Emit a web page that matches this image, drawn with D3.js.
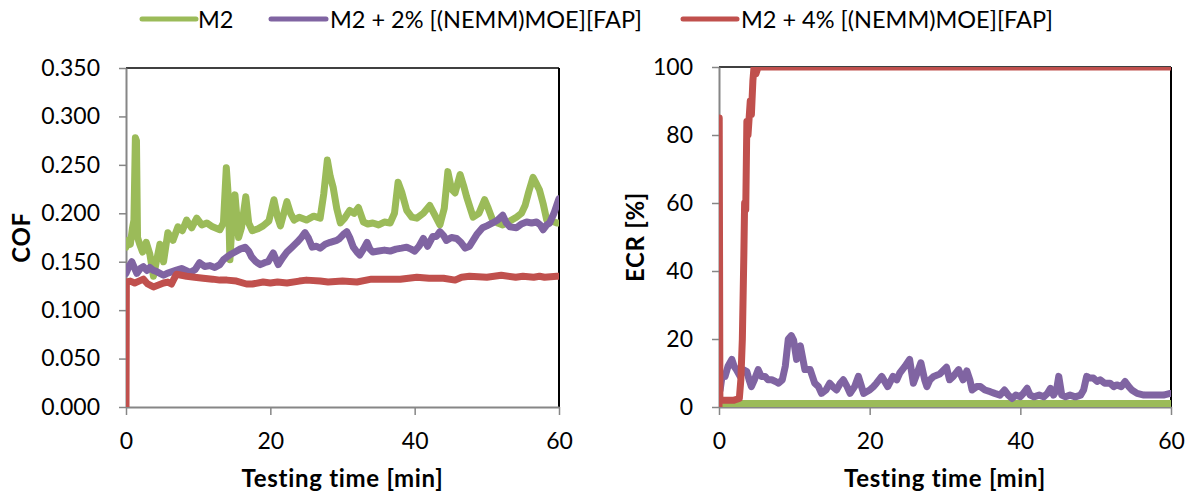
<!DOCTYPE html>
<html>
<head>
<meta charset="utf-8">
<script src="https://cdn.jsdelivr.net/npm/d3@7"></script>
<style>
  html, body { margin: 0; padding: 0; background: #fff; }
  svg { display: block; font-family: Lato, "Open Sans", sans-serif; }
</style>
</head>
<body>
<svg id="chart" width="1198" height="501"></svg>
<script>
// ---- series labels and colours ----
const seriesNames = ["M2", "M2 + 2% [(NEMM)MOE][FAP]", "M2 + 4% [(NEMM)MOE][FAP]"];
const seriesColors = ["#9BBB59", "#8064A2", "#C0504D"];

// ---- tick labels ----
const timeTicks = [0, 20, 40, 60];
const cofTicks = [0, 0.05, 0.10, 0.15, 0.20, 0.25, 0.30, 0.35];
const ecrTicks = [0, 20, 40, 60, 80, 100];

// ---- COF vs time (min) ----
const cofM2Time = [0, 0.3, 0.6, 0.9, 1.1, 1.3, 1.45, 1.6, 1.9, 2.3, 2.8, 3.3, 3.8, 4.2, 4.7, 5.2, 5.8, 6.5, 7.2, 7.8, 8.4, 9.1, 9.8, 10.5, 11.2, 12.0, 13.0, 13.5, 13.9, 14.2, 14.4, 14.7, 15.1, 15.6, 16.0, 16.6, 17.0, 17.5, 18.3, 19.0, 19.8, 20.5, 21.0, 21.4, 22.3, 22.8, 23.3, 24.0, 25.0, 26.0, 26.9, 27.4, 27.9, 28.3, 28.7, 29.2, 29.7, 30.3, 31.0, 31.6, 32.2, 32.9, 33.5, 34.2, 35.0, 35.8, 36.6, 37.2, 37.7, 38.2, 38.9, 39.6, 40.3, 41.2, 42.1, 42.8, 43.5, 44.1, 44.6, 45.1, 45.6, 46.3, 46.8, 47.2, 48.1, 48.9, 49.7, 50.2, 50.8, 51.5, 52.2, 53.2, 54.1, 54.8, 55.3, 55.8, 56.4, 56.9, 57.3, 57.8, 58.3, 59.0, 59.7, 60];
const cofM2 = [0.165, 0.172, 0.168, 0.185, 0.193, 0.278, 0.275, 0.175, 0.168, 0.160, 0.170, 0.158, 0.135, 0.150, 0.168, 0.150, 0.180, 0.172, 0.186, 0.182, 0.193, 0.185, 0.195, 0.188, 0.190, 0.186, 0.183, 0.190, 0.247, 0.215, 0.152, 0.190, 0.219, 0.175, 0.185, 0.217, 0.190, 0.182, 0.184, 0.187, 0.192, 0.214, 0.196, 0.187, 0.212, 0.200, 0.193, 0.196, 0.193, 0.197, 0.195, 0.220, 0.255, 0.238, 0.227, 0.205, 0.190, 0.195, 0.203, 0.200, 0.206, 0.191, 0.189, 0.190, 0.188, 0.191, 0.190, 0.200, 0.232, 0.222, 0.203, 0.196, 0.195, 0.200, 0.208, 0.198, 0.188, 0.205, 0.243, 0.225, 0.221, 0.240, 0.228, 0.217, 0.196, 0.200, 0.214, 0.205, 0.193, 0.190, 0.188, 0.192, 0.196, 0.200, 0.208, 0.222, 0.237, 0.230, 0.224, 0.210, 0.193, 0.192, 0.190, 0.190];

const cof2Time = [0, 0.4, 0.8, 1.2, 1.5, 2.0, 2.4, 2.9, 3.3, 3.8, 4.2, 4.7, 5.2, 5.7, 6.1, 6.9, 7.7, 8.3, 8.9, 9.6, 10.2, 10.9, 11.6, 12.3, 13.0, 13.5, 14.0, 14.6, 15.1, 15.8, 16.5, 17.0, 17.4, 18.0, 18.6, 19.2, 19.7, 20.4, 21.1, 21.7, 22.3, 23.0, 23.7, 24.3, 24.8, 25.3, 25.8, 26.4, 26.9, 27.6, 28.3, 29.2, 29.6, 30.1, 30.6, 31.0, 31.5, 32.0, 32.4, 32.9, 33.4, 33.8, 34.2, 35.0, 35.8, 36.6, 37.4, 38.2, 38.9, 39.5, 40.0, 40.6, 41.2, 41.8, 42.5, 43.0, 43.5, 44.0, 44.4, 45.1, 45.8, 46.4, 47.0, 47.6, 48.1, 48.6, 49.4, 50.0, 50.8, 51.5, 52.2, 52.7, 53.2, 54.1, 54.8, 55.5, 56.2, 56.9, 57.4, 57.8, 58.3, 58.7, 59.3, 59.9, 60];
const cof2 = [0.138, 0.145, 0.150, 0.143, 0.138, 0.143, 0.145, 0.141, 0.144, 0.141, 0.140, 0.138, 0.136, 0.138, 0.139, 0.141, 0.143, 0.141, 0.139, 0.142, 0.149, 0.145, 0.146, 0.144, 0.147, 0.152, 0.155, 0.158, 0.160, 0.163, 0.165, 0.161, 0.155, 0.150, 0.147, 0.149, 0.150, 0.159, 0.147, 0.154, 0.160, 0.165, 0.170, 0.175, 0.180, 0.174, 0.165, 0.166, 0.164, 0.168, 0.170, 0.172, 0.174, 0.178, 0.181, 0.175, 0.165, 0.160, 0.157, 0.163, 0.170, 0.163, 0.160, 0.161, 0.162, 0.161, 0.163, 0.164, 0.165, 0.163, 0.161, 0.166, 0.174, 0.166, 0.176, 0.176, 0.181, 0.177, 0.172, 0.175, 0.174, 0.170, 0.164, 0.166, 0.172, 0.178, 0.185, 0.187, 0.190, 0.193, 0.198, 0.190, 0.186, 0.185, 0.189, 0.191, 0.190, 0.191, 0.188, 0.183, 0.188, 0.190, 0.200, 0.213, 0.215];

const cof4Time = [0, 0.05, 0.6, 1.2, 1.8, 2.4, 3.0, 3.8, 4.5, 5.2, 5.8, 6.3, 6.7, 7.0, 7.7, 8.4, 9.5, 10.7, 12.0, 13.0, 14.0, 15.3, 16.7, 17.5, 19.0, 20.0, 21.0, 22.3, 24.0, 25.0, 26.9, 28.0, 30.0, 32.0, 34.0, 36.0, 38.0, 40.3, 42.0, 44.0, 45.6, 46.5, 47.6, 50.0, 52.0, 54.0, 55.0, 56.5, 57.3, 58.0, 59.7, 60];
const cof4 = [0.000, 0.129, 0.130, 0.128, 0.130, 0.132, 0.127, 0.124, 0.126, 0.128, 0.129, 0.127, 0.133, 0.137, 0.136, 0.135, 0.134, 0.133, 0.132, 0.131, 0.131, 0.130, 0.127, 0.127, 0.129, 0.128, 0.129, 0.128, 0.130, 0.131, 0.130, 0.129, 0.130, 0.129, 0.132, 0.132, 0.132, 0.134, 0.133, 0.133, 0.131, 0.134, 0.135, 0.134, 0.136, 0.134, 0.135, 0.134, 0.135, 0.134, 0.135, 0.135];

// ---- ECR (%) vs time (min) ----
const ecrM2Time = [0, 60];
const ecrM2 = [1, 1];

const ecr2Time = [0, 0.15, 0.4, 0.8, 1.2, 1.7, 2.0, 2.3, 2.8, 3.2, 3.7, 4.0, 4.3, 4.7, 5.2, 5.6, 6.1, 6.5, 7.0, 7.5, 7.9, 8.4, 8.8, 9.2, 9.6, 9.9, 10.3, 10.8, 11.4, 12.1, 12.7, 13.2, 13.6, 14.2, 14.7, 15.1, 15.6, 16.1, 16.5, 17.0, 17.4, 18.0, 18.5, 19.2, 20.0, 20.5, 20.9, 21.6, 22.4, 23.1, 23.6, 24.0, 24.7, 25.3, 25.8, 26.3, 26.8, 27.3, 27.6, 28.0, 28.5, 29.3, 30.2, 30.6, 31.1, 31.8, 32.4, 32.9, 33.3, 33.6, 34.2, 34.7, 35.3, 36.0, 36.6, 37.3, 37.9, 38.4, 38.9, 39.4, 40.0, 40.4, 40.9, 41.3, 41.8, 42.5, 43.1, 43.6, 44.0, 44.4, 44.8, 45.1, 45.5, 46.0, 46.6, 47.3, 48.0, 48.4, 48.8, 49.2, 49.7, 50.2, 50.6, 51.2, 51.9, 52.4, 52.8, 53.4, 53.9, 54.4, 54.8, 55.5, 56.4, 57.2, 58.1, 59.0, 59.9, 60];
const ecr2 = [16, 5, 9, 9, 12, 14, 12, 11, 9, 11, 10.4, 8, 6, 8, 11, 9, 9, 8, 8, 7.5, 7, 8, 12, 20, 21, 19.7, 14, 18, 11, 11, 7, 6, 4, 5, 7, 6, 5, 7, 8, 6, 4, 6, 9, 4, 5, 6, 7, 9, 6, 9, 8, 10, 12, 14, 7, 10, 13, 8, 6, 8, 9, 9.7, 11.7, 8, 9, 11, 8, 10.6, 8, 5, 6, 6, 5, 4.5, 4, 3.5, 5, 3.5, 2.5, 3.5, 3, 4, 5.5, 3.5, 3, 3.5, 3, 4, 5.5, 3.5, 5, 9, 3.5, 3, 3.5, 3, 3.5, 5, 9, 8.5, 8.5, 7.5, 8, 7, 7, 6, 6.5, 6, 7.5, 6, 5, 4, 3.5, 3.5, 3.5, 3.5, 4, 4];

const ecr4Time = [0, 0.03, 0.12, 1.0, 2.0, 2.7, 2.9, 3.1, 3.3, 3.4, 3.55, 3.7, 3.85, 4.0, 4.15, 4.3, 4.5, 4.65, 4.9, 5.2, 60];
const ecr4 = [0, 85, 2, 2, 2, 2.5, 8, 20, 45, 60, 58, 84, 80, 85, 90, 86, 96, 100, 98, 100, 100];

const svg = d3.select("#chart");
const grey = "#868686";
const tickFont = "23px";
const titleFont = "24px";

function pairs(t, v) { return t.map((d, i) => [d, v[i]]); }

function drawPanel(opts) {
  const x = d3.scaleLinear().domain([0, 60]).range([opts.left, opts.right]);
  const y = d3.scaleLinear().domain(opts.yDomain).range([opts.bottom, opts.top]);
  const g = svg.append("g");

  // frame: black top and right edges
  g.append("line").attr("x1", opts.left).attr("x2", opts.right)
    .attr("y1", opts.top).attr("y2", opts.top)
    .attr("stroke", "#000").attr("stroke-width", 1.5);
  g.append("line").attr("x1", opts.right).attr("x2", opts.right)
    .attr("y1", opts.top).attr("y2", opts.bottom)
    .attr("stroke", "#000").attr("stroke-width", 2);

  // axes
  const yAxis = d3.axisLeft(y).tickValues(opts.yTicks).tickFormat(opts.yFormat)
    .tickSize(7).tickSizeOuter(0).tickPadding(19);
  const xAxis = d3.axisBottom(x).tickValues(timeTicks).tickFormat(d3.format("d"))
    .tickSize(8).tickSizeOuter(0).tickPadding(18);

  const ya = g.append("g").attr("transform", `translate(${opts.left},0)`).call(yAxis);
  const xa = g.append("g").attr("transform", `translate(0,${opts.bottom})`).call(xAxis);
  [ya, xa].forEach(a => {
    a.select(".domain").attr("stroke", grey).attr("stroke-width", 2);
    a.selectAll(".tick line").attr("stroke", grey).attr("stroke-width", 1.5);
    a.selectAll(".tick text").attr("fill", "#000")
      .style("font-size", tickFont).style("font-family", "Lato, sans-serif");
  });

  // clip lines to the plot area
  const clipId = "clip" + opts.id;
  svg.append("clipPath").attr("id", clipId).append("rect")
    .attr("x", opts.left).attr("y", opts.top)
    .attr("width", opts.right - opts.left).attr("height", opts.bottom - opts.top);

  const line = d3.line().x(d => x(d[0])).y(d => y(d[1]));
  const lines = g.append("g").attr("clip-path", `url(#${clipId})`);
  opts.series.forEach((s, i) => {
    lines.append("path").datum(s)
      .attr("d", line)
      .attr("fill", "none")
      .attr("stroke", seriesColors[i])
      .attr("stroke-width", 7)
      .attr("stroke-linejoin", "round")
      .attr("stroke-linecap", "round");
  });

  // axis titles
  g.append("text")
    .attr("transform", `translate(${opts.yTitleX},${(opts.top + opts.bottom) / 2}) rotate(-90)`)
    .attr("text-anchor", "middle").attr("dominant-baseline", "central")
    .style("font-size", titleFont).style("font-weight", "bold").style("letter-spacing", "0.7px")
    .text(opts.yTitle);
  g.append("text")
    .attr("x", (opts.left + opts.right) / 2).attr("y", 487)
    .attr("text-anchor", "middle")
    .style("font-size", titleFont).style("font-weight", "bold").style("letter-spacing", "0.7px")
    .text("Testing time [min]");
}

drawPanel({
  id: "cof", left: 126, right: 559, top: 68, bottom: 407,
  yDomain: [0, 0.35], yTicks: cofTicks, yFormat: d3.format(".3f"),
  yTitle: "COF", yTitleX: 20,
  series: [pairs(cofM2Time, cofM2), pairs(cof2Time, cof2), pairs(cof4Time, cof4)]
});

drawPanel({
  id: "ecr", left: 719, right: 1171, top: 67, bottom: 407,
  yDomain: [0, 100], yTicks: ecrTicks, yFormat: d3.format("d"),
  yTitle: "ECR [%]", yTitleX: 634,
  series: [pairs(ecrM2Time, ecrM2), pairs(ecr2Time, ecr2), pairs(ecr4Time, ecr4)]
});

// legend
const legendItems = [
  { x1: 142, x2: 196, tx: 198 },
  { x1: 271, x2: 326, tx: 330 },
  { x1: 683, x2: 737, tx: 741 }
];
const legend = svg.append("g");
legendItems.forEach((it, i) => {
  legend.append("line").attr("x1", it.x1).attr("x2", it.x2).attr("y1", 19).attr("y2", 19)
    .attr("stroke", seriesColors[i]).attr("stroke-width", 5).attr("stroke-linecap", "round");
  legend.append("text").attr("x", it.tx).attr("y", 19)
    .attr("dominant-baseline", "central")
    .style("font-size", "23.5px")
    .text(seriesNames[i]);
});
</script>
</body>
</html>
